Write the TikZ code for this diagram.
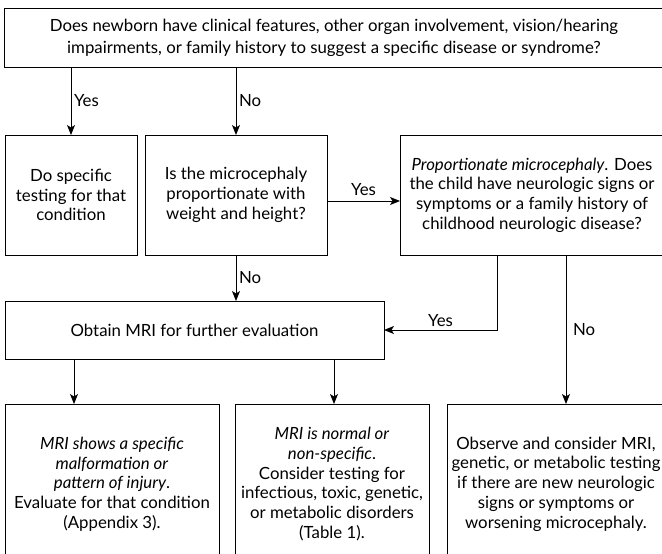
\documentclass[tikz,border=0pt]{standalone}
\usepackage{fontspec}
\setmainfont{Lato}
\usetikzlibrary{arrows.meta}

\begin{document}
\begin{tikzpicture}[x=1pt,y=-1pt,
  box/.style={draw,line width=1pt,align=center,inner sep=0pt,outer sep=0pt,
    font=\fontsize{16.8}{19.7}\selectfont},
  lbl/.style={font=\fontsize{16.8}{18}\selectfont,inner sep=2.5pt},
  arr/.style={line width=1pt,-{Stealth[length=10pt,width=8pt,inset=2.5pt]}}]
\useasboundingbox (0,0) rectangle (662,554);
\clip (0,0) rectangle (662,554);

% question at the top
\node[box,minimum width=660pt,minimum height=59pt,font=\fontsize{16.8}{22}\selectfont] (top) at (334,37.5)
  {Does newborn have clinical features, other organ involvement, vision/hearing\\
   impairments, or family history to suggest a specific disease or syndrome?};

% second row
\node[box,minimum width=132pt,minimum height=120pt] (spec) at (71,195)
  {Do specific\\ testing for that\\ condition};
\node[box,minimum width=182pt,minimum height=120pt] (prop) at (236,195)
  {Is the microcephaly\\ proportionate with\\ weight and height?};
\node[box,minimum width=264pt,minimum height=120pt] (neuro) at (532,195)
  {\textit{Proportionate microcephaly}. Does\\ the child have neurologic signs or\\
   symptoms or a family history of\\ childhood neurologic disease?};

\node[box,minimum width=379pt,minimum height=58pt] (mri) at (194.5,330)
  {Obtain MRI for further evaluation};

% outcomes
\node[box,minimum width=214pt,minimum height=160pt] (malf) at (112,484)
  {\textit{MRI shows a specific}\\ \textit{malformation or}\\ \textit{pattern of injury}.\\
   Evaluate for that condition\\ (Appendix 3).};
\node[box,minimum width=194pt,minimum height=160pt] (normal) at (332,484)
  {\textit{MRI is normal or}\\ \textit{non-specific}.\\ Consider testing for\\
   infectious, toxic, genetic,\\ or metabolic disorders\\ (Table 1).};
\node[box,minimum width=218pt,minimum height=160pt] (observe) at (556,484)
  {Observe and consider MRI,\\ genetic, or metabolic testing\\ if there are new neurologic\\
   signs or symptoms or\\ worsening microcephaly.};

% connectors
\draw[arr] (spec.north |- top.south) -- node[lbl,right] (y1) {Yes} (spec.north);
\draw[arr] (prop.north |- top.south) -- node[lbl,right] (n1) {No} (prop.north);
\draw[arr] ([yshift=-6pt]prop.east) -- node[lbl,above,yshift=2pt] (y2) {Yes} ([yshift=-6pt]neuro.west);
\draw[arr] (prop.south) -- node[lbl,right] (n2) {No} (prop.south |- mri.north);
\draw[arr] ([xshift=-35pt]neuro.south) |- node[lbl,above,pos=0.75] (y3) {Yes} (mri.east);
\draw[arr] ([xshift=34pt]neuro.south) -- node[lbl,right,xshift=4pt] (n3) {No}
  ([xshift=34pt]neuro.south |- observe.north);
\draw[arr] ([xshift=-120.5pt]mri.south) -- ([xshift=-120.5pt]mri.south |- malf.north);
\draw[arr] ([xshift=139.5pt]mri.south) -- ([xshift=139.5pt]mri.south |- normal.north);
\end{tikzpicture}
\end{document}
